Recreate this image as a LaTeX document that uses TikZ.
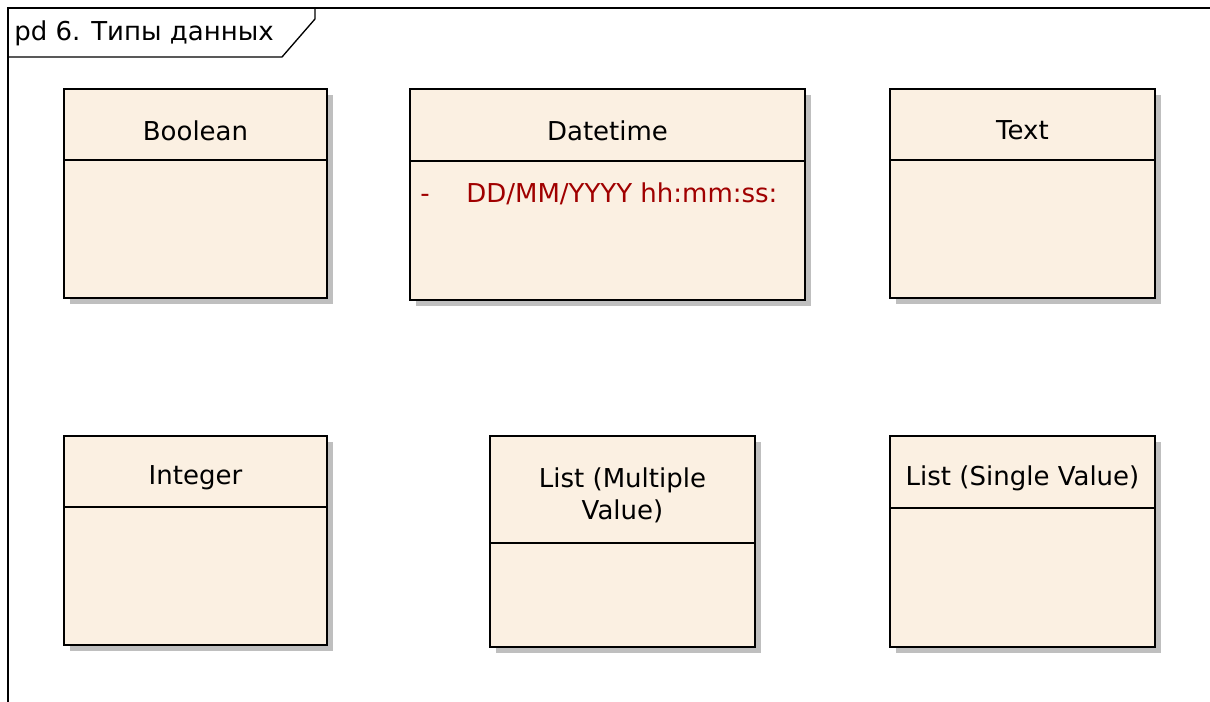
\documentclass[tikz,border=0pt]{standalone}
\usepackage{fontspec}
\setmainfont{DejaVu Sans}
\usepackage{tikz}
\usepackage{xcolor}
\definecolor{clsfill}{RGB}{251,240,226}
\definecolor{attrred}{RGB}{160,0,0}

\begin{document}
\begin{tikzpicture}[x=0.75pt,y=-0.75pt,
  cls/.style={draw=black,line width=1.5pt,fill=clsfill},
  shade/.style={fill=black!25,draw=none},
  lbl/.style={font=\fontsize{19.5}{24}\selectfont,align=center,inner sep=0pt}]
  \useasboundingbox (0,0) rectangle (1210,702);
  % diagram frame and its tab
  \draw[line width=1.3pt] (8,702) -- (8,8) -- (1210,8);
  \draw[line width=1pt] (8,57) -- (282,57) -- (315,19) -- (315,8);
  \node[lbl,anchor=west] (title) at (14,33) {pd 6. Типы данных};

  \foreach \n/\x/\y/\w/\h/\sep/\txt in {
      boolean/64/89/263/209/160/Boolean,
      datetime/410/89/395/211/161/Datetime,
      text/890/89/265/209/160/Text,
      integer/64/436/263/209/507/Integer,
      listmulti/490/436/265/211/543/{List (Multiple\\Value)},
      listsingle/890/436/265/211/508/{List (Single Value)}}{
    \fill[shade] (\x+6,\y+6) rectangle ++(\w,\h);
    \draw[cls] (\x,\y) rectangle ++(\w,\h);
    \draw[line width=1.5pt] (\x,\sep) -- (\x+\w,\sep);
    \node[lbl] (\n) at ({\x+\w/2},{(\y+\sep)/2+6}) {\txt};
  }
  \node[lbl,text=attrred,anchor=base west] (dtdash) at (420,203) {-};
  \node[lbl,text=attrred,anchor=base west] (dtattr) at (466,203) {DD/MM/YYYY hh:mm:ss:};
\end{tikzpicture}
\end{document}
